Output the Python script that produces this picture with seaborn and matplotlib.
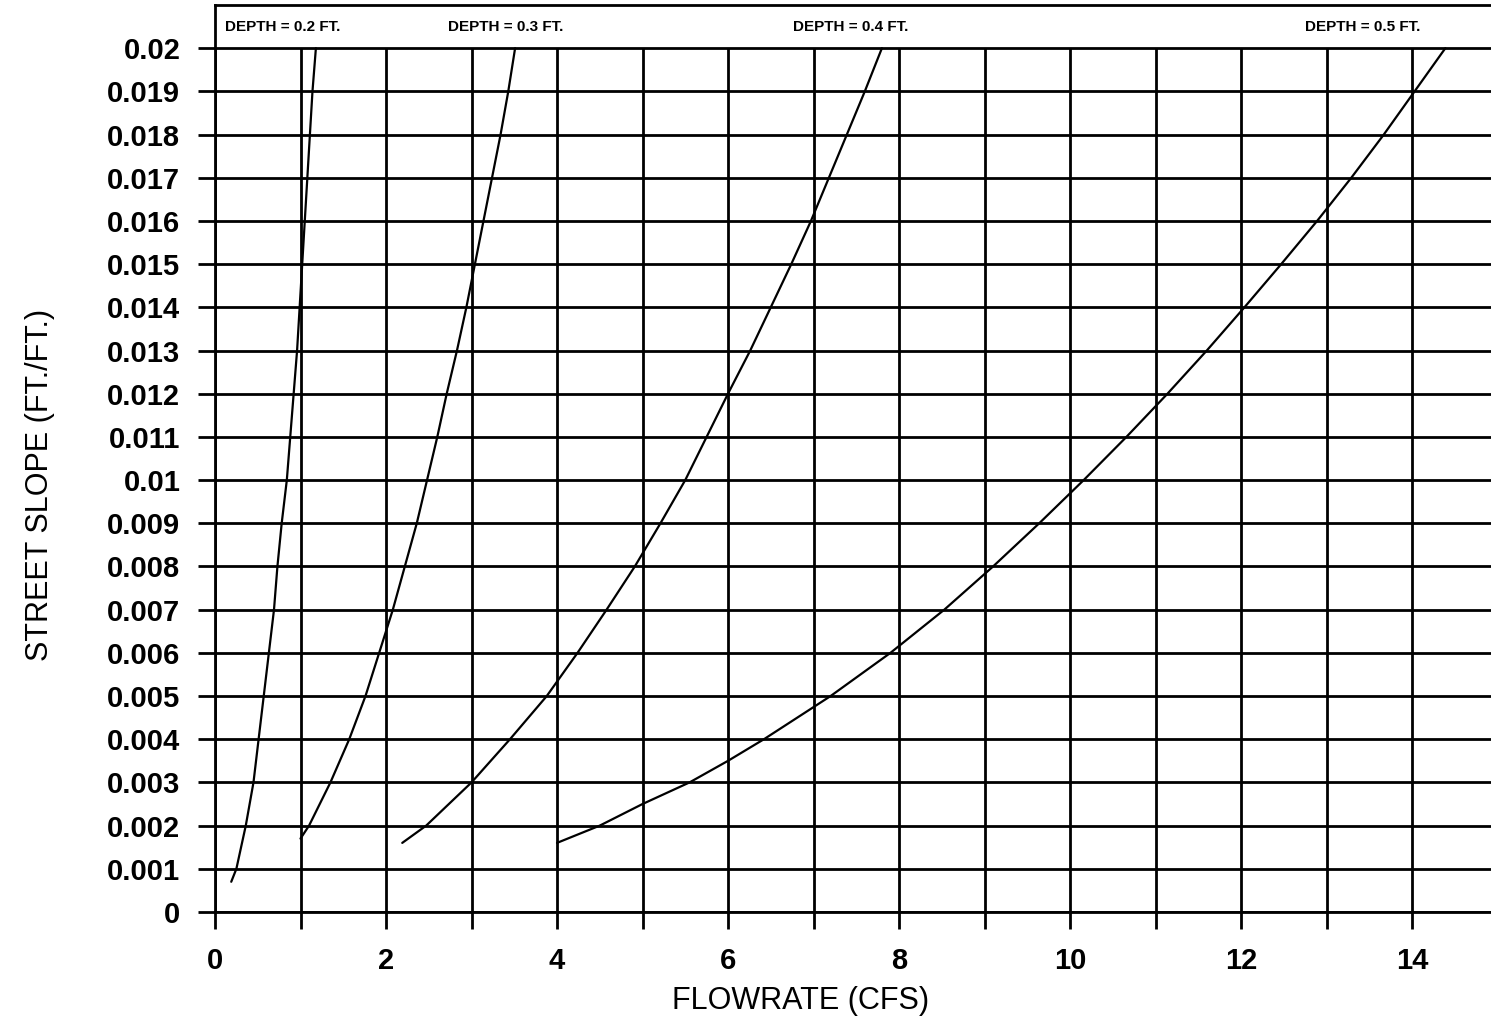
import numpy as np
import pandas as pd
import matplotlib
matplotlib.use("Agg")
import matplotlib.pyplot as plt
import seaborn as sns

# ---- data ----
depths = ["0.2", "0.3", "0.4", "0.5"]

flow_d02 = [0.19, 0.25, 0.36, 0.45, 0.51, 0.57, 0.63, 0.69, 0.73, 0.78, 0.84,
            0.88, 0.92, 0.96, 0.99, 1.02, 1.05, 1.08, 1.11, 1.14, 1.18]
slope_d02 = [0.0007, 0.001, 0.002, 0.003, 0.004, 0.005, 0.006, 0.007, 0.008, 0.009, 0.010,
             0.011, 0.012, 0.013, 0.014, 0.015, 0.016, 0.017, 0.018, 0.019, 0.020]

flow_d03 = [1.0, 1.1, 1.35, 1.57, 1.76, 1.92, 2.08, 2.22, 2.36, 2.48, 2.6,
            2.71, 2.83, 2.94, 3.04, 3.14, 3.24, 3.34, 3.43, 3.51]
slope_d03 = [0.0017, 0.002, 0.003, 0.004, 0.005, 0.006, 0.007, 0.008, 0.009, 0.010, 0.011,
             0.012, 0.013, 0.014, 0.015, 0.016, 0.017, 0.018, 0.019, 0.020]

flow_d04 = [2.19, 2.47, 3.0, 3.45, 3.88, 4.24, 4.58, 4.91, 5.21, 5.5, 5.75,
            6.0, 6.26, 6.5, 6.74, 6.97, 7.18, 7.39, 7.6, 7.8]
slope_d04 = [0.0016, 0.002, 0.003, 0.004, 0.005, 0.006, 0.007, 0.008, 0.009, 0.010, 0.011,
             0.012, 0.013, 0.014, 0.015, 0.016, 0.017, 0.018, 0.019, 0.020]

flow_d05 = [4.0, 4.5, 5.0, 5.55, 6.0, 6.42, 7.2, 7.9, 8.53, 9.1, 9.64,
            10.16, 10.66, 11.14, 11.6, 12.04, 12.47, 12.89, 13.29, 13.67, 14.03, 14.39]
slope_d05 = [0.0016, 0.002, 0.0025, 0.003, 0.0035, 0.004, 0.005, 0.006, 0.007, 0.008, 0.009,
             0.010, 0.011, 0.012, 0.013, 0.014, 0.015, 0.016, 0.017, 0.018, 0.019, 0.020]

depth_label_text = ["DEPTH = 0.2 FT.", "DEPTH = 0.3 FT.", "DEPTH = 0.4 FT.", "DEPTH = 0.5 FT."]
depth_label_x = [0.12, 2.73, 6.76, 12.75]

x_ticks = list(range(0, 16))
x_tick_labels = [str(i) if i % 2 == 0 else "" for i in x_ticks]
y_ticks = [round(0.001 * i, 3) for i in range(0, 21)]
y_tick_labels = [f"{v:g}" for v in y_ticks]

# ---- build table ----
flows = [flow_d02, flow_d03, flow_d04, flow_d05]
slopes = [slope_d02, slope_d03, slope_d04, slope_d05]
df = pd.concat([pd.DataFrame({"flow": f, "slope": s, "depth": d})
                for d, f, s in zip(depths, flows, slopes)], ignore_index=True)

sns.set_theme(style="white")
plt.rcParams["font.family"] = ["Liberation Sans", "DejaVu Sans"]

W, H = 1491, 1035
fig = plt.figure(figsize=(W / 100, H / 100), dpi=100)
ax = fig.add_axes([215 / W, 123 / H, 1282.5 / W, 907 / H])

sns.lineplot(data=df, x="flow", y="slope", hue="depth", palette=["black"] * 4,
             estimator=None, sort=False, legend=False, linewidth=1.6, ax=ax)

ax.set_xlim(0, 15)
ax.set_ylim(0, 0.021)
ax.set_xticks(x_ticks)
ax.set_xticklabels(x_tick_labels)
ax.set_yticks(y_ticks)
ax.set_yticklabels(y_tick_labels)

# horizontal grid across the full width; vertical grid stops under the label band
ax.grid(True, axis="y", color="black", linewidth=2.0)
ax.vlines(x_ticks, 0, y_ticks[-1], colors="black", linewidth=2.0, zorder=0.5)

for side in ["top", "left", "bottom", "right"]:
    ax.spines[side].set_color("black")
    ax.spines[side].set_linewidth(2.0)

ax.tick_params(axis="both", direction="out", length=12, width=2, color="black",
               labelsize=21, pad=13, labelcolor="black")
ax.tick_params(axis="both", which="both", left=True, bottom=True)
for lbl in ax.get_xticklabels() + ax.get_yticklabels():
    lbl.set_fontweight("bold")

ax.set_xlabel("FLOWRATE (CFS)", fontsize=22, color="black")
ax.set_ylabel("STREET SLOPE (FT./FT.)", fontsize=22, color="black")
ax.xaxis.label.set_va("center")
ax.yaxis.label.set_va("center")
ax.xaxis.set_label_coords((801 - 215) / 1282.5, (912 - 1001) / 907)
ax.yaxis.set_label_coords((40 - 215) / 1282.5, (912 - 485) / 907)

for txt, xx in zip(depth_label_text, depth_label_x):
    ax.text(xx, 0.02048, txt, fontsize=11, fontweight="bold", ha="left", va="center",
            color="black")

fig.savefig("out.png", dpi=100)
